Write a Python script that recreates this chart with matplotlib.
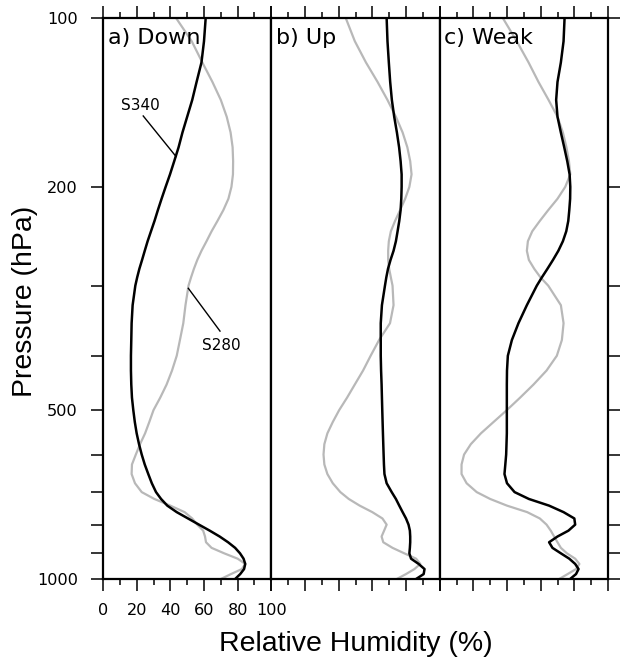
import matplotlib
matplotlib.use('Agg')
import matplotlib.pyplot as plt
from matplotlib.ticker import FixedLocator, NullLocator

plt.rcParams['font.family'] = ['DejaVu Sans']

# ---------------- data ----------------
pressure = [100, 110, 120, 130, 140, 150, 160, 170, 180, 190, 200,
            210, 220, 230, 240, 250, 260, 270, 280, 290, 300,
            325, 350, 375, 400, 425, 450, 475, 500,
            525, 550, 575, 600, 625, 650, 675, 700,
            720, 740, 760, 780, 800, 820, 840, 860, 880, 900,
            920, 940, 960, 980, 1000]

down_s340 = [61, 60, 58.5, 55.6, 53, 50, 47.2, 44.9, 42.3, 39.8, 37.2,
             34.8, 32.6, 30.6, 28.5, 26.5, 24.8, 23.2, 21.6, 20.3, 19.2,
             17.6, 17, 16.8, 16.6, 16.6, 16.8, 17.2, 18,
             18.9, 20, 21.4, 23, 24.8, 26.9, 29, 31.5,
             34.5, 38.2, 43.8, 50.5, 57, 63.4, 69.3, 74.3, 78.5, 81.4,
             83.5, 84.5, 83.8, 81.5, 78.5]
down_s280 = [43.4, 52.7, 59, 65, 70, 73.5, 75.8, 77, 77.3, 77.2, 76.3,
             74.5, 71.5, 68, 64.5, 61.5, 58.5, 56, 54, 52.3, 50.8,
             49, 47.7, 45.7, 43.8, 41, 37.8, 34, 30,
             27.5, 25, 22, 19.5, 17.2, 17, 19, 23,
             30.5, 40, 48.5, 53, 56, 59.5, 60.6, 61.2, 64.5, 72,
             80, 84.5, 82.5, 76, 70]

up_s340 = [68.5, 69, 69.8, 70.6, 71.6, 73, 74.6, 75.9, 76.8, 77.4, 77.4,
           77.2, 76.8, 76, 75, 74, 72.6, 70.8, 69.3, 68.3, 67.5,
           65.7, 65, 65, 65, 65.2, 65.5, 65.7, 65.9,
           66.1, 66.3, 66.5, 66.7, 66.9, 67.2, 68.5, 71.5,
           74, 76, 78, 80, 81.5, 82.3, 82.5, 82.5, 82.3, 82,
           83, 87.5, 91, 90.5, 86]
up_s280 = [44.2, 49.6, 56.2, 63.1, 69, 74, 78, 80.8, 82.5, 83.3, 82,
           79.5, 76.5, 73.5, 71, 69.8, 69.4, 69.4, 70, 71, 72,
           72.6, 70.5, 64, 59, 54.5, 49.6, 45, 40.3,
           36.5, 33.3, 31.5, 31, 31.5, 33.3, 36.5, 41,
           46, 52.5, 60, 66, 68.5, 67, 65.5, 66.5, 72, 79,
           86, 88.5, 85, 80, 74.5]

weak_s340 = [74.2, 73.6, 72, 70, 69.2, 70, 72, 74, 75.8, 77.2, 77.6,
             77.5, 77, 76.4, 75.2, 73.2, 70.5, 67.3, 64, 60.7, 57.7,
             51.8, 46.8, 42.9, 40.5, 40, 39.9, 39.9, 39.9,
             39.9, 39.9, 39.7, 39.5, 39, 38.5, 40, 44.5,
             53, 65, 73.6, 80, 80.5, 76.5, 70, 65, 67, 72,
             77, 80.5, 82.5, 81, 77.5]
weak_s280 = [37.5, 45.8, 52.8, 58.7, 64.7, 70, 73.2, 75.3, 76.8, 77.6, 74.6,
             70, 64.5, 59.5, 55, 52.4, 51.8, 53, 56.2, 59.9, 64.5,
             72, 73.6, 72.6, 69.6, 63.5, 55.8, 47.8, 39.9,
             32, 24.5, 18.5, 14.5, 13, 13, 16, 22,
             30, 40, 52, 59.5, 63.5, 66, 68, 70, 72, 75.6,
             80.5, 83, 81, 76, 71]

panel_titles = ['a) Down', 'b) Up', 'c) Weak']
x_major = [0, 20, 40, 60, 80, 100]
x_minor = [10, 30, 50, 70, 90]
y_ticks = [100, 200, 300, 400, 500, 600, 700, 800, 900, 1000]
y_labels = ['100', '200', '', '', '500', '', '', '', '', '1000']

series = [(down_s340, down_s280), (up_s340, up_s280), (weak_s340, weak_s280)]

# ---------------- figure ----------------
W, H = 622, 660
fig = plt.figure(figsize=(W / 100, H / 100), dpi=100)

left_px, right_px, top_px, bot_px = 103, 608, 18, 579
pw = (right_px - left_px) / 3.0

axes = []
for i in range(3):
    ax = fig.add_axes([(left_px + i * pw) / W, (H - bot_px) / H,
                       pw / W, (bot_px - top_px) / H])
    axes.append(ax)
    blk, gry = series[i]
    ax.plot(gry, pressure, color='#b8b8b8', lw=1.6, zorder=2,
            solid_joinstyle='round')
    ax.plot(blk, pressure, color='black', lw=1.8, zorder=3,
            solid_joinstyle='round')
    ax.set_yscale('log')
    ax.set_ylim(1000, 100)
    ax.set_xlim(0, 100)
    for s in ax.spines.values():
        s.set_linewidth(1.6)
    ax.xaxis.set_major_locator(FixedLocator(x_major))
    ax.xaxis.set_minor_locator(FixedLocator(x_minor))
    ax.set_yticks(y_ticks, labels=y_labels)
    ax.yaxis.set_minor_locator(NullLocator())
    ax.tick_params(axis='x', which='major', direction='out', length=8.6,
                   width=1.1, top=True, bottom=True, labelsize=11.6, pad=9)
    ax.tick_params(axis='x', which='minor', direction='out', length=4,
                   width=1.1, top=True, bottom=True)
    ax.tick_params(axis='y', which='major', direction='out', length=8.6,
                   width=1.1, labelsize=11.6, pad=9.5)
    if i != 0:
        ax.tick_params(axis='x', labelbottom=False)
    if i == 0:
        ax.tick_params(axis='y', left=True, right=False, labelleft=True)
    elif i == 1:
        ax.tick_params(axis='y', left=False, right=False, labelleft=False)
    else:
        ax.tick_params(axis='y', left=False, right=True, labelleft=False,
                       labelright=False)
    ax.text(0.028, 0.953, panel_titles[i], transform=ax.transAxes,
            fontsize=16, ha='left', va='baseline')

# annotations in panel a
ax0 = axes[0]
ax0.plot([23.9, 43.4], [149.5, 176.6], color='black', lw=1.0, zorder=4)
ax0.text(22.5, 145.9, 'S340', fontsize=11, ha='center', va='baseline')
ax0.plot([50.7, 69.5], [303.3, 361.5], color='black', lw=1.0, zorder=4)
ax0.text(70.0, 390.7, 'S280', fontsize=11, ha='center', va='baseline')

fig.text(25 / W, 1 - 301 / H, 'Pressure (hPa)', rotation=90,
         ha='center', va='center', fontsize=20.5, family='Liberation Sans')
fig.text(355.5 / W, 1 - 651 / H, 'Relative Humidity (%)',
         ha='center', va='baseline', fontsize=20.5, family='Liberation Sans')

fig.savefig('out.png', dpi=100)
